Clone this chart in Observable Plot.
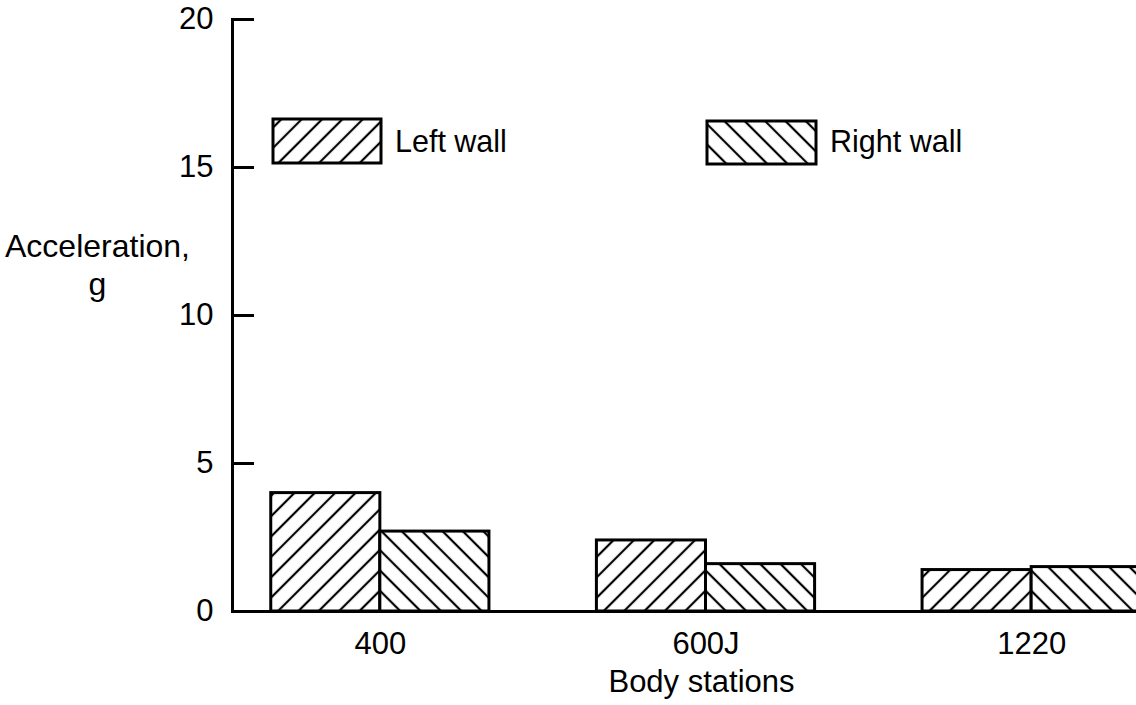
<!DOCTYPE html>
<html><head><meta charset="utf-8">
<script src="https://cdn.jsdelivr.net/npm/d3@7"></script>
<script src="https://cdn.jsdelivr.net/npm/@observablehq/plot@0.6"></script>
<style>
html,body{margin:0;padding:0;background:#fff;overflow:hidden;}
#chart{position:relative;width:1136px;height:705px;overflow:hidden;}
#chart svg{font-family:"Liberation Sans",Arial,sans-serif;color:#000;}
</style></head><body>
<svg width="0" height="0" style="position:absolute"><defs id="defs"></defs></svg>
<div id="chart"></div>
<script>
// ---- data ----
const stations = ["400", "600J", "1220"];
const walls = ["Left wall", "Right wall"];
const leftWall = [4.0, 2.4, 1.4];
const rightWall = [2.7, 1.6, 1.5];
const yTicks = [0, 5, 10, 15, 20];
const yLabel = ["Acceleration,", "g"];
const xLabel = "Body stations";

// ---- layout ----
const W = 1136, H = 705, mL = 232, mT = 19, mB = 94;
const xRange = [232, 1179], padIn = 0.33, padOut = 0.119;
const band = d3.scaleBand(stations, xRange).paddingInner(padIn).paddingOuter(padOut);
const bw = band.bandwidth();
const data = stations.flatMap((s, i) => [
  {station: s, wall: walls[0], value: leftWall[i]},
  {station: s, wall: walls[1], value: rightWall[i]}
]);

// ---- hatch patterns ----
const hs = band.step() / 16;          // horizontal spacing
const p = hs / Math.SQRT2;            // perpendicular spacing
const jx = band(stations[0]) + bw / 2, jy = H - mB;
const defs = d3.select("#defs");
[["hatchL", 45], ["hatchR", -45]].forEach(([id, a]) => {
  const pat = defs.append("pattern").attr("id", id)
    .attr("patternUnits", "userSpaceOnUse").attr("width", p).attr("height", p)
    .attr("patternTransform", `translate(${jx},${jy}) rotate(${a})`);
  pat.append("rect").attr("width", p).attr("height", p).attr("fill", "#fff");
  [0, p].forEach(x => pat.append("line").attr("x1", x).attr("x2", x).attr("y1", -1).attr("y2", p + 1)
    .attr("stroke", "#000").attr("stroke-width", 2.2));
});
const fills = {[walls[0]]: "url(#hatchL)", [walls[1]]: "url(#hatchR)"};

const plot = Plot.plot({
  width: W, height: H,
  marginLeft: mL, marginRight: 0, marginTop: mT, marginBottom: mB,
  x: {type: "band", domain: stations, range: xRange, paddingInner: padIn, paddingOuter: padOut, round: false},
  y: {domain: [0, 20]},
  marks: [
    Plot.barY(data.filter(d => d.wall === walls[0]), {x: "station", y: "value", insetRight: bw / 2, fill: fills[walls[0]], stroke: "#000", strokeWidth: 3}),
    Plot.barY(data.filter(d => d.wall === walls[1]), {x: "station", y: "value", insetLeft: bw / 2, fill: fills[walls[1]], stroke: "#000", strokeWidth: 3}),
    Plot.frame({anchor: "left", strokeWidth: 3}),
    Plot.ruleY([0], {strokeWidth: 3}),
    Plot.axisY({ticks: yTicks, tickSize: -22, strokeWidth: 3, tickFormat: () => "", label: null}),
    Plot.axisY({ticks: yTicks, tickSize: 0, tickPadding: 19, fontSize: 31, label: null}),
    Plot.axisX({tickSize: 0, tickPadding: 20, fontSize: 31, label: null}),
    Plot.text([xLabel], {frameAnchor: "bottom", dx: 17, dy: 58, lineAnchor: "top", fontSize: 31}),
    Plot.text([yLabel.join("\n")], {frameAnchor: "top-left", dx: -135, dy: 210, textAnchor: "middle", lineAnchor: "top", lineHeight: 1.19, fontSize: 32})
  ]
});
document.getElementById("chart").appendChild(plot);

// ---- legend ----
const legendPos = [{x: 273, y: 119, w: 108, h: 44}, {x: 707, y: 121, w: 109, h: 43}];
const svg = d3.select(plot);
const lg = svg.append("g").attr("text-anchor", "start");
walls.forEach((w, i) => {
  const b = legendPos[i];
  lg.append("rect").attr("x", b.x).attr("y", b.y).attr("width", b.w).attr("height", b.h)
    .attr("fill", fills[w]).attr("stroke", "#000").attr("stroke-width", 3);
  lg.append("text").attr("x", b.x + b.w + 14).attr("y", 152).attr("font-size", 30.5).attr("fill", "#000").text(w);
});
</script>
</body></html>
